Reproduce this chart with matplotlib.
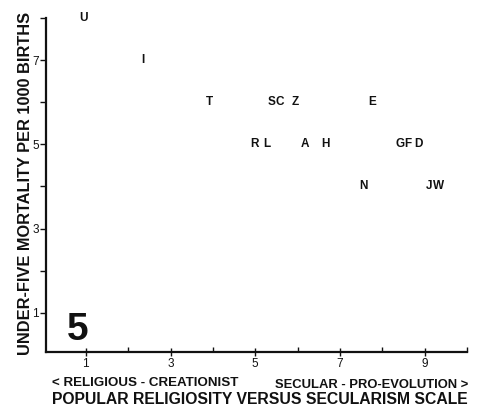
import matplotlib
matplotlib.use("Agg")
import matplotlib.pyplot as plt

plt.rcParams['font.family'] = ['Liberation Sans', 'DejaVu Sans']

# country letter codes and positions (religiosity scale, mortality)
labels = ["U", "I", "T", "S", "C", "Z", "E", "R", "L", "A", "H", "G", "F", "D", "N", "J", "W"]
x_vals = [0.95, 2.34, 3.92, 5.38, 5.58, 5.95, 7.76, 4.99, 5.28, 6.17, 6.66, 8.43, 8.60, 8.86, 7.56, 9.10, 9.33]
y_vals = [8.0, 7.0, 6.0, 6.0, 6.0, 6.0, 6.0, 5.0, 5.0, 5.0, 5.0, 5.0, 5.0, 5.0, 4.0, 4.0, 4.0]

x_major = [1, 3, 5, 7, 9]
x_minor = [2, 4, 6, 8, 10]
y_major = [1, 3, 5, 7]
y_minor = [2, 4, 6, 8]

fig = plt.figure(figsize=(5.0, 4.17), dpi=100)
ax = fig.add_axes([0.092, 0.156, 0.842, 0.801])
ax.set_xlim(0.06, 10)
ax.set_ylim(0.07, 8)

for lab, xv, yv in zip(labels, x_vals, y_vals):
    ax.text(xv, yv, lab, ha='center', va='center', fontsize=8.5, fontweight='bold', color='#111111')

for s in ['top', 'right']:
    ax.spines[s].set_visible(False)
for s in ['left', 'bottom']:
    ax.spines[s].set_linewidth(1.6)
    ax.spines[s].set_color('#111111')

ax.set_xticks(x_major)
ax.set_xticks(x_minor, minor=True)
ax.set_yticks(y_major)
ax.set_yticks(y_minor, minor=True)
ax.set_xticklabels([str(v) for v in x_major])
ax.set_yticklabels([str(v) for v in y_major])
ax.tick_params(axis='x', which='major', direction='inout', length=6, width=1.0, labelsize=8.5, pad=1, colors='#111111')
ax.tick_params(axis='x', which='minor', direction='in', length=3.5, width=1.0, colors='#111111')
ax.tick_params(axis='y', which='both', direction='out', length=4, width=1.0, labelsize=8.5, pad=1, colors='#111111')

ax.text(0.80, 0.17, "5", fontsize=28, fontweight='bold', ha='center', va='bottom', color='#111111')

fig.text(0.052, 0.559, "UNDER-FIVE MORTALITY PER 1000 BIRTHS", rotation=90, fontsize=11.8,
         fontweight='bold', ha='center', va='center', color='#111111')

fig.text(0.104, 0.082, "< RELIGIOUS - CREATIONIST", fontsize=9.6, fontweight='bold', ha='left', va='center', color='#111111')
fig.text(0.936, 0.077, "SECULAR - PRO-EVOLUTION >", fontsize=9.4, fontweight='bold', ha='right', va='center', color='#111111')
fig.text(0.936, 0.043, "POPULAR RELIGIOSITY VERSUS SECULARISM SCALE", fontsize=11.35, fontweight='bold', ha='right', va='center', color='#111111')

fig.savefig("out.png", dpi=100)
